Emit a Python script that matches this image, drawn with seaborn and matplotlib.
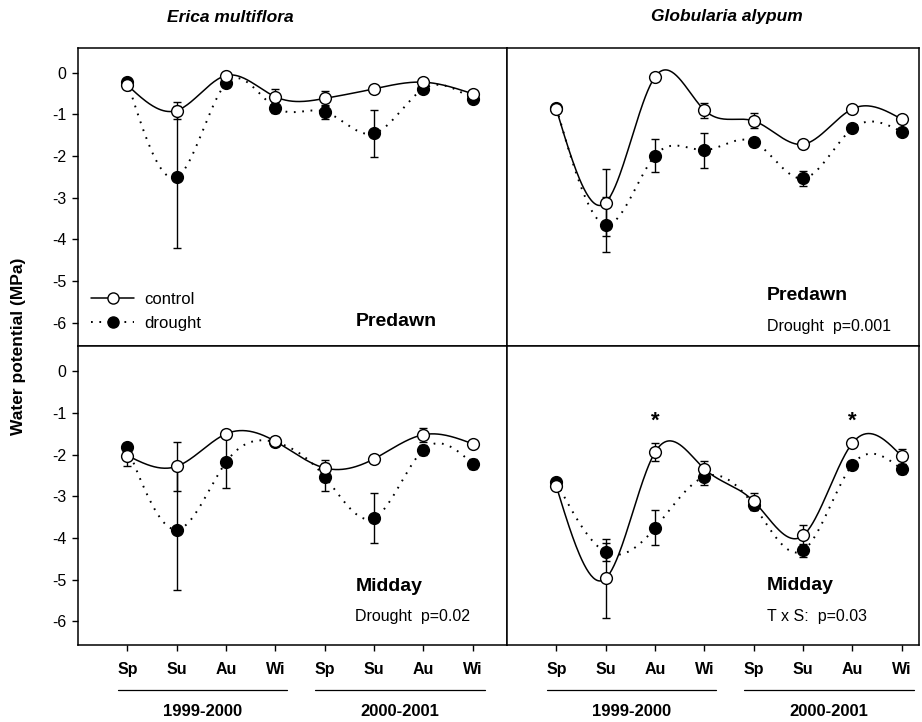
import numpy as np
import pandas as pd
import matplotlib
matplotlib.use("Agg")
import matplotlib.pyplot as plt
import matplotlib.transforms as mtransforms
from matplotlib.lines import Line2D
import seaborn as sns

sns.set_style("ticks")
plt.rcParams['font.family'] = ['Liberation Sans', 'DejaVu Sans']
plt.rcParams.update({
    "text.color": "black", "axes.labelcolor": "black",
    "xtick.color": "black", "ytick.color": "black",
    "axes.edgecolor": "black",
})

seasons = ["Sp", "Su", "Au", "Wi", "Sp", "Su", "Au", "Wi"]
years = ["1999-2000", "2000-2001"]
species = ["Erica multiflora", "Globularia alypum"]

# Erica multiflora - predawn
erica_pd_control = [-0.30, -0.91, -0.07, -0.58, -0.62, -0.39, -0.23, -0.51]
erica_pd_control_se = [0.05, 0.21, 0.05, 0.18, 0.18, 0.05, 0.05, 0.05]
erica_pd_drought = [-0.22, -2.51, -0.26, -0.84, -0.94, -1.46, -0.39, -0.64]
erica_pd_drought_se = [0.05, 1.70, 0.08, 0.13, 0.17, 0.57, 0.05, 0.05]
# Globularia alypum - predawn
glob_pd_control = [-0.88, -3.12, -0.10, -0.90, -1.16, -1.72, -0.87, -1.12]
glob_pd_control_se = [0.05, 0.81, 0.05, 0.18, 0.18, 0.08, 0.05, 0.05]
glob_pd_drought = [-0.84, -3.65, -1.99, -1.86, -1.66, -2.54, -1.34, -1.42]
glob_pd_drought_se = [0.05, 0.66, 0.40, 0.42, 0.10, 0.18, 0.05, 0.05]
# Erica multiflora - midday
erica_md_control = [-2.02, -2.28, -1.50, -1.68, -2.32, -2.10, -1.52, -1.74]
erica_md_control_se = [0.26, 0.58, 0.10, 0.10, 0.20, 0.10, 0.17, 0.05]
erica_md_drought = [-1.82, -3.80, -2.18, -1.70, -2.53, -3.52, -1.88, -2.22]
erica_md_drought_se = [0.10, 1.44, 0.63, 0.10, 0.34, 0.59, 0.12, 0.12]
# Globularia alypum - midday
glob_md_control = [-2.76, -4.97, -1.94, -2.34, -3.12, -3.94, -1.72, -2.04]
glob_md_control_se = [0.05, 0.94, 0.22, 0.20, 0.20, 0.25, 0.05, 0.18]
glob_md_drought = [-2.66, -4.34, -3.76, -2.53, -3.22, -4.30, -2.24, -2.35]
glob_md_drought_se = [0.05, 0.22, 0.42, 0.20, 0.12, 0.15, 0.05, 0.12]

panel_labels = ["Predawn", "Predawn", "Midday", "Midday"]
stat_labels = ["", "Drought  p=0.001", "Drought  p=0.02", "T x S:  p=0.03"]
signif_positions = [3, 7]  # Au 1999-2000, Au 2000-2001 (Globularia midday)


def natural_spline(x, y, n=300):
    x = np.asarray(x, float)
    y = np.asarray(y, float)
    k = len(x)
    h = np.diff(x)
    A = np.zeros((k, k))
    b = np.zeros(k)
    A[0, 0] = 1
    A[-1, -1] = 1
    for i in range(1, k - 1):
        A[i, i - 1] = h[i - 1]
        A[i, i] = 2 * (h[i - 1] + h[i])
        A[i, i + 1] = h[i]
        b[i] = 6 * ((y[i + 1] - y[i]) / h[i] - (y[i] - y[i - 1]) / h[i - 1])
    M = np.linalg.solve(A, b)
    xs = np.linspace(x[0], x[-1], n)
    idx = np.clip(np.searchsorted(x, xs) - 1, 0, k - 2)
    x0, x1 = x[idx], x[idx + 1]
    hh = x1 - x0
    t0 = x1 - xs
    t1 = xs - x0
    ys = (M[idx] * t0 ** 3 / (6 * hh) + M[idx + 1] * t1 ** 3 / (6 * hh)
          + (y[idx] / hh - M[idx] * hh / 6) * t0
          + (y[idx + 1] / hh - M[idx + 1] * hh / 6) * t1)
    return xs, ys


fig = plt.figure(figsize=(9.22, 7.22), dpi=100)
W, H = 922, 722
L0, DIV, R1 = 78, 507, 919
T0, MID, B0 = 48, 346, 645
px_per_x = 49.35

rects = [
    (L0 / W, 1 - MID / H, (DIV - L0) / W, (MID - T0) / H),
    (DIV / W, 1 - MID / H, (R1 - DIV) / W, (MID - T0) / H),
    (L0 / W, 1 - B0 / H, (DIV - L0) / W, (B0 - MID) / H),
    (DIV / W, 1 - B0 / H, (R1 - DIV) / W, (B0 - MID) / H),
]
xlims = [(0, (DIV - L0) / px_per_x), (0, (R1 - DIV) / px_per_x)] * 2
ylims = [(-6.56, 0.59), (-6.56, 0.59), (-6.57, 0.61), (-6.57, 0.61)]

panels = [
    (erica_pd_control, erica_pd_control_se, erica_pd_drought, erica_pd_drought_se),
    (glob_pd_control, glob_pd_control_se, glob_pd_drought, glob_pd_drought_se),
    (erica_md_control, erica_md_control_se, erica_md_drought, erica_md_drought_se),
    (glob_md_control, glob_md_control_se, glob_md_drought, glob_md_drought_se),
]
label_x = [5.62, 5.26, 5.62, 5.26]
label_y = [-5.98, -5.36, -5.16, -5.14]
stat_y = [None, -6.1, -5.89, -5.89]

xpos = np.arange(1, 9)
dot_style = (0, (0.9, 3.4))
axes = []
for i, rect in enumerate(rects):
    ax = fig.add_axes(rect)
    axes.append(ax)
    c, cse, d, dse = panels[i]
    df = pd.DataFrame({
        "x": np.concatenate([xpos, xpos]),
        "y": c + d,
        "se": cse + dse,
        "treatment": ["control"] * 8 + ["drought"] * 8,
    })
    for trt, ls in [("drought", dot_style), ("control", "-")]:
        sub = df[df.treatment == trt]
        xs, ys = natural_spline(sub.x, sub.y)
        ax.plot(xs, ys, color="black", lw=1.1 if trt == "control" else 1.4,
                linestyle=ls, zorder=2)
        ax.errorbar(sub.x, sub.y, yerr=sub.se, fmt="none", ecolor="black",
                    elinewidth=1.0, capsize=3.2, capthick=1.0, zorder=3)
    sns.scatterplot(data=df[df.treatment == "drought"], x="x", y="y", ax=ax,
                    color="black", edgecolor="black", s=72, linewidth=1.0,
                    zorder=4, legend=False)
    sns.scatterplot(data=df[df.treatment == "control"], x="x", y="y", ax=ax,
                    color="white", edgecolor="black", s=72, linewidth=1.0,
                    zorder=5, legend=False)
    ax.set_xlim(*xlims[i])
    ax.set_ylim(*ylims[i])
    ax.set_xlabel("")
    ax.set_ylabel("")
    for sp in ax.spines.values():
        sp.set_linewidth(1.1)
        sp.set_color("black")
        sp.set_visible(True)
    ax.tick_params(direction="out", length=4.5, width=1.0, color="black")
    if i % 2 == 0:
        ax.set_yticks(range(0, -7, -1))
        ax.set_yticklabels([str(v) for v in range(0, -7, -1)], fontsize=11.5)
        ax.tick_params(axis="y", pad=4)
    else:
        ax.set_yticks([])
    if i >= 2:
        ax.set_xticks(xpos)
        ax.set_xticklabels(seasons, fontsize=11.5, fontweight="bold",
                           family=["Liberation Sans Narrow", "Liberation Sans"])
        ax.tick_params(axis="x", pad=8)
    else:
        ax.set_xticks([])
    ax.text(label_x[i], label_y[i], panel_labels[i], fontsize=14,
            fontweight="bold", ha="left", va="center")
    if stat_labels[i]:
        ax.text(label_x[i], stat_y[i], stat_labels[i], fontsize=11.5,
                ha="left", va="center")

# significance asterisks
for p in signif_positions:
    axes[3].text(p, -1.2, "*", fontsize=16, fontweight="bold",
                 ha="center", va="center")

# legend
handles = [
    Line2D([0], [0], color="black", lw=1.1, marker="o", markersize=8,
           markerfacecolor="white", markeredgecolor="black"),
    Line2D([0], [0], color="black", lw=1.4, linestyle=dot_style, marker="o",
           markersize=8, markerfacecolor="black", markeredgecolor="black"),
]
axes[0].legend(handles, ["control", "drought"], loc="lower left",
               bbox_to_anchor=(-0.005, 0.0), frameon=False, fontsize=12,
               handlelength=2.6, handletextpad=0.6, labelspacing=0.55)

# year lines and labels
for j, ax in enumerate(axes[2:]):
    tr = mtransforms.blended_transform_factory(ax.transData, fig.transFigure)
    for k, yr in enumerate(years):
        x0 = 0.81 + 4 * k
        x1 = 4.24 + 4 * k
        ax.plot([x0, x1], [1 - 690 / H, 1 - 690 / H], color="black", lw=0.9,
                transform=tr, clip_on=False)
        ax.text((x0 + x1) / 2, 1 - 712 / H, yr, transform=tr, fontsize=12,
                fontweight="bold", ha="center", va="center",
                family=["Liberation Sans Narrow", "Liberation Sans"])

# species titles
fig.text(230 / W, 1 - 17 / H, species[0], fontsize=12.5, fontweight="bold",
         fontstyle="italic", ha="center", va="center")
fig.text(727 / W, 1 - 17 / H, species[1], fontsize=12.5, fontweight="bold",
         fontstyle="italic", ha="center", va="center")
fig.text(18 / W, 1 - 346 / H, "Water potential (MPa)", fontsize=12.5,
         fontweight="bold", rotation=90, ha="center", va="center")

fig.savefig("out.png", dpi=100)
